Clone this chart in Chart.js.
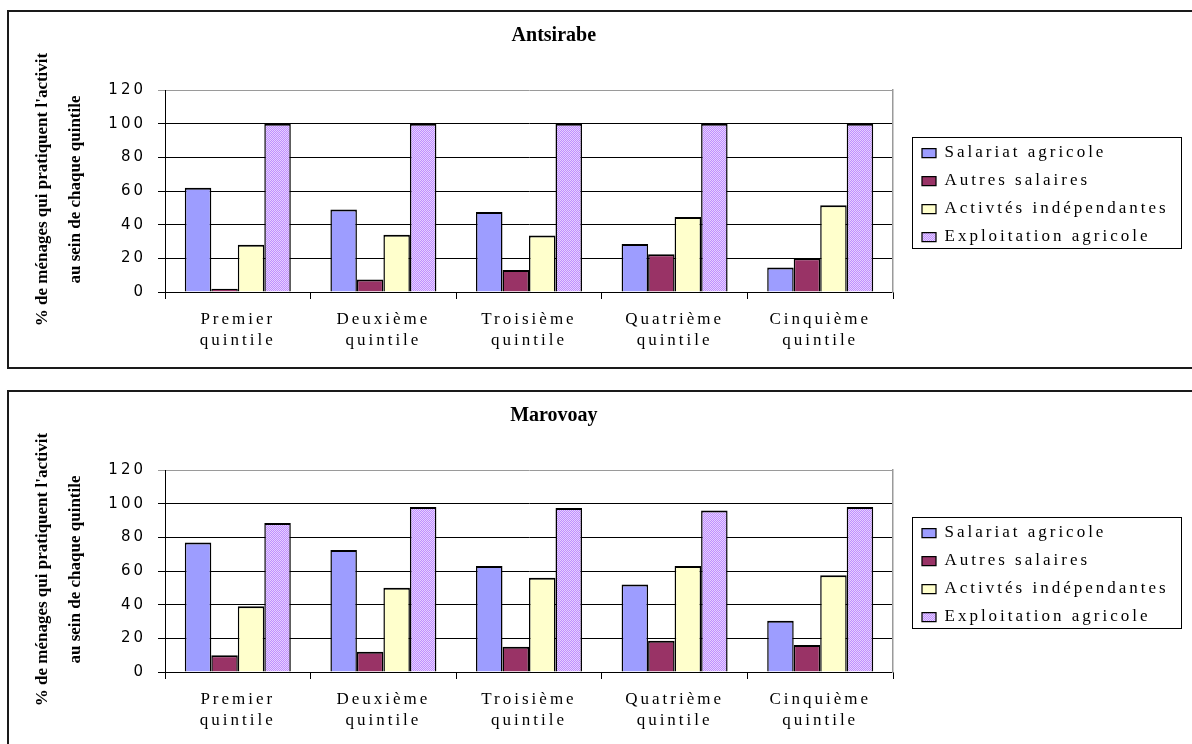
<!DOCTYPE html>
<html>
<head>
<meta charset="utf-8">
<script src="https://cdn.jsdelivr.net/npm/chart.js@4.4.1/dist/chart.umd.min.js"></script>
<style>
    html, body { margin: 0; padding: 0; background: #fff; overflow: hidden; }
    .frame { position: absolute; left: 7px; width: 1250px; height: 355px; border: 2px solid #1a1a1a; }
    #frame1 { top: 10px; }
    #frame2 { top: 390px; }
    canvas { display: block; }
</style>
</head>
<body>
<div class="frame" id="frame1"><canvas id="antsirabe" width="1183" height="355"></canvas></div>
<div class="frame" id="frame2"><canvas id="marovoay" width="1183" height="355"></canvas></div>
<script>
const quintiles = [
    ['Premier', 'quintile'],
    ['Deuxième', 'quintile'],
    ['Troisième', 'quintile'],
    ['Quatrième', 'quintile'],
    ['Cinquième', 'quintile']
];
const seriesNames = ['Salariat agricole', 'Autres salaires', 'Activtés indépendantes', 'Exploitation agricole'];
const yTickValues = [0, 20, 40, 60, 80, 100, 120];
const yTitle = ['% de ménages qui pratiquent l\'activit', 'au sein de chaque quintile'];

const antsirabeSalariat = [62, 49, 47.5, 28.5, 14.5];
const antsirabeAutres = [2, 7.5, 13, 22.5, 20];
const antsirabeActivites = [28, 34, 33.5, 44.5, 51.5];
const antsirabeExploitation = [100, 100, 100, 100, 100];

const marovoaySalariat = [77, 72.5, 63, 52, 30.5];
const marovoayAutres = [10, 12, 15, 18.5, 16];
const marovoayActivites = [39, 50, 56, 63, 57.5];
const marovoayExploitation = [88.5, 98, 97.5, 96, 98];

// checkered lavender fill of the last series
const checker = () => {
    const tile = document.createElement('canvas');
    tile.width = 2;
    tile.height = 2;
    const g = tile.getContext('2d');
    g.fillStyle = '#e6d0ff';
    g.fillRect(0, 0, 2, 2);
    g.fillStyle = '#bf8fff';
    g.fillRect(0, 0, 1, 1);
    g.fillRect(1, 1, 1, 1);
    return g.createPattern(tile, 'repeat');
};
const fills = ['#9d9dff', '#993366', '#ffffcc', checker()];

const serif = 'Liberation Serif, Times New Roman, serif';
const legendFont = { family: serif, size: 17 };
const LEGEND_LEFT = 902;      // canvas x where the legend box starts
const LEFT_SHIFT = -80;       // widens the full-size title axis to the left

// ticks and legend are letter-spaced, titles (drawn after the bars) are not
const SPACED = '3px';
const textSpacing = {
    id: 'textSpacing',
    beforeLayout: chart => { chart.ctx.letterSpacing = SPACED; },
    beforeDraw: chart => { chart.ctx.letterSpacing = SPACED; },
    afterDatasetsDraw: chart => { chart.ctx.letterSpacing = '0px'; }
};

// same sum as the legend's own fit(): padding + box + gap + text + 10
const legendWidth = chart => {
    const ctx = chart.ctx;
    ctx.save();
    ctx.font = Chart.helpers.toFont(legendFont).string;
    ctx.letterSpacing = SPACED;
    const text = Math.max(...seriesNames.map(n => ctx.measureText(n).width));
    ctx.restore();
    return 11 + 14 + legendFont.size / 2 + text + 10;
};

const legendFrame = {
    id: 'legendFrame',
    afterDraw: chart => {
        const boxes = chart.legend.legendHitBoxes;
        if (!boxes || !boxes.length) return;
        const first = boxes[0];
        const last = boxes[boxes.length - 1];
        const widest = Math.max(...boxes.map(b => b.width));
        const x0 = Math.round(first.left - 10);
        const x1 = Math.round(first.left + widest + 12);
        const y0 = Math.round(first.top + first.height / 2 - 16);
        const y1 = Math.round(last.top + last.height / 2 + 11);
        const ctx = chart.ctx;
        ctx.save();
        ctx.strokeStyle = '#000';
        ctx.lineWidth = 1;
        ctx.strokeRect(x0 + 0.5, y0 + 0.5, x1 - x0, y1 - y0);
        ctx.restore();
    }
};

const buildChart = (id, place, series) => new Chart(document.getElementById(id), {
    type: 'bar',
    data: {
        labels: quintiles,
        datasets: seriesNames.map((name, i) => ({
            label: name,
            data: series[i],
            backgroundColor: fills[i],
            borderColor: '#000',
            borderWidth: { top: 2, left: 1.5, right: 1.5, bottom: 0 },
            categoryPercentage: 0.728,
            barPercentage: 1,
            xAxisID: 'x',
            yAxisID: 'y'
        }))
    },
    options: {
        responsive: false,
        animation: false,
        events: [],
        layout: {
            padding: {
                left: LEFT_SHIFT,
                top: 0,
                bottom: 0,
                right: ({ chart }) => chart.width - LEGEND_LEFT - legendWidth(chart)
            }
        },
        plugins: {
            title: { display: false },
            tooltip: { enabled: false },
            legend: {
                position: 'right',
                fullSize: false,
                maxWidth: 400,
                title: { display: true, text: ' ', padding: 0, font: { size: 8, lineHeight: 1 } },
                labels: {
                    color: '#000',
                    font: legendFont,
                    boxWidth: 14,
                    boxHeight: 9,
                    padding: 11
                }
            }
        },
        scales: {
            x: {
                position: 'bottom',
                grid: { offset: true, drawOnChartArea: false, tickLength: 7, color: '#000' },
                border: { color: '#000', width: 1, z: 1 },
                ticks: {
                    color: '#000',
                    font: { family: serif, size: 17, lineHeight: 1.25 },
                    padding: 10,
                    maxRotation: 0,
                    autoSkip: false
                },
                afterFit: s => { s.height = 75; }
            },
            xt: {
                type: 'linear',
                position: 'top',
                fullSize: true,
                ticks: { display: false },
                grid: { display: false, z: 1 },
                border: { display: false },
                title: {
                    display: true,
                    text: place,
                    color: '#000',
                    font: { family: serif, size: 20, weight: 'bold', lineHeight: 1.2 },
                    padding: { top: 11.5, bottom: 0 }
                },
                afterFit: s => { s.height = 78; }
            },
            y: {
                position: 'left',
                min: 0,
                max: 120,
                afterBuildTicks: s => { s.ticks = yTickValues.map(v => ({ value: v })); },
                grid: {
                    tickLength: 7,
                    color: c => (c.tick && c.tick.value === 120 ? '#9a9a9a' : '#000')
                },
                border: { color: '#000', width: 1, z: 1 },
                ticks: {
                    color: '#000',
                    font: { family: 'DejaVu Sans, Arial, sans-serif', size: 15 },
                    padding: 12
                },
                afterFit: s => { s.width = 66; }
            },
            yt: {
                type: 'linear',
                position: 'left',
                weight: 10,
                fullSize: true,
                ticks: { display: false },
                grid: { display: false, z: 1 },
                border: { display: false },
                title: {
                    display: true,
                    text: yTitle,
                    color: '#000',
                    font: { family: serif, size: 17, weight: 'bold', lineHeight: 33 / 17 },
                    padding: { top: 17.5 - LEFT_SHIFT, bottom: 0 }
                },
                afterFit: s => { s.width = 90 - LEFT_SHIFT; }
            },
            yr: {
                type: 'linear',
                position: 'right',
                min: 0,
                max: 120,
                ticks: { display: false },
                grid: { display: false },
                border: { color: '#9a9a9a', width: 1.5, z: 1 },
                afterFit: s => { s.width = 18; }
            }
        }
    },
    plugins: [textSpacing, legendFrame]
});

buildChart('antsirabe', 'Antsirabe',
    [antsirabeSalariat, antsirabeAutres, antsirabeActivites, antsirabeExploitation]);
buildChart('marovoay', 'Marovoay',
    [marovoaySalariat, marovoayAutres, marovoayActivites, marovoayExploitation]);
</script>
</body>
</html>
